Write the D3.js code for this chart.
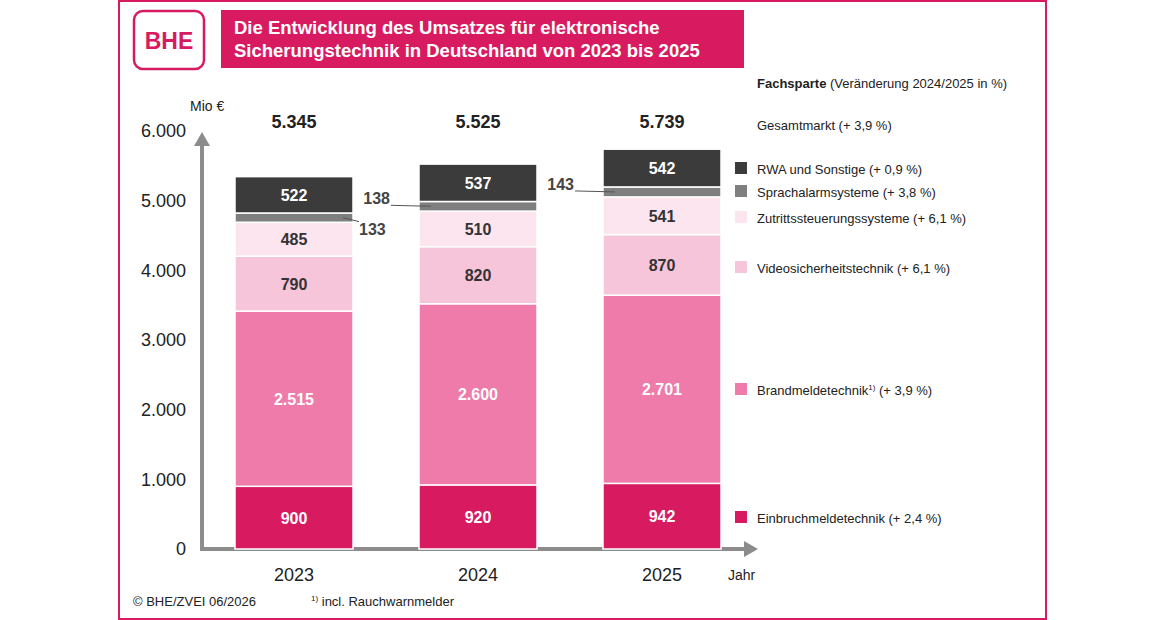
<!DOCTYPE html>
<html><head><meta charset="utf-8">
<script src="https://cdn.jsdelivr.net/npm/d3@7"></script>
<style>body{margin:0;background:#fff}svg{font-family:Arial,"Liberation Sans",sans-serif}</style>
</head><body><svg id="c" width="1160" height="620"></svg>
<script>
const years = ["2023","2024","2025"];
const seriesNames = ["Einbruchmeldetechnik","Brandmeldetechnik","Videosicherheitstechnik","Zutrittssteuerungssysteme","Sprachalarmsysteme","RWA und Sonstige"];
const einbruch = [900,920,942];
const brand = [2515,2600,2701];
const video = [790,820,870];
const zutritt = [485,510,541];
const sprach = [133,138,143];
const rwa = [522,537,542];
const totals = ["5.345","5.525","5.739"];
const legendLabels = ["Einbruchmeldetechnik (+ 2,4 %)","Brandmeldetechnik","Videosicherheitstechnik (+ 6,1 %)","Zutrittssteuerungssysteme (+ 6,1 %)","Sprachalarmsysteme (+ 3,8 %)","RWA und Sonstige (+ 0,9 %)"];
const yTicks = [0,1000,2000,3000,4000,5000,6000];
const colors = ["#d81b60","#ee7baa","#f7c5d9","#fce5ee","#7f7f7f","#3b3b3b"];

const svg = d3.select("#c");
const fmt = v => d3.format(",")(v).replace(/,/g,".");
svg.append("rect").attr("x",119).attr("y",1).attr("width",927).attr("height",618).attr("fill","none").attr("stroke","#d81b60").attr("stroke-width",2);
svg.append("rect").attr("x",134).attr("y",11).attr("width",70).attr("height",58).attr("rx",9).attr("fill","#fff").attr("stroke","#d81b60").attr("stroke-width",2.5);
svg.append("text").attr("x",169).attr("y",49).attr("text-anchor","middle").attr("font-size",23).attr("font-weight","bold").attr("fill","#d81b60").text("BHE");
svg.append("rect").attr("x",221).attr("y",10).attr("width",523).attr("height",58).attr("fill","#d81b60");
svg.append("text").attr("x",234).attr("y",34).attr("font-size",18.5).attr("font-weight","bold").attr("fill","#fff").text("Die Entwicklung des Umsatzes für elektronische");
svg.append("text").attr("x",234).attr("y",57).attr("font-size",18.5).attr("font-weight","bold").attr("fill","#fff").text("Sicherungstechnik in Deutschland von 2023 bis 2025");

const y = d3.scaleLinear().domain([0,6000]).range([549,131]);
const xb = d3.scalePoint().domain(years).range([294,662]);
const bw = 118;

const stackData = years.map((yr,i)=>({year:yr,v:[einbruch[i],brand[i],video[i],zutritt[i],sprach[i],rwa[i]]}));
const keys = d3.range(6);
const stack = d3.stack().keys(keys).value((d,k)=>d.v[k])(stackData);

const ax = svg.append("g").attr("transform","translate(202,0)").call(d3.axisLeft(y).tickValues(yTicks).tickFormat(fmt).tickSize(0).tickPadding(16));
ax.select(".domain").remove();
ax.selectAll("text").attr("font-size",18).attr("fill","#222").style("font-family","Arial,'Liberation Sans',sans-serif");
svg.append("line").attr("x1",202).attr("x2",202).attr("y1",549).attr("y2",140).attr("stroke","#8c8c8c").attr("stroke-width",4);
svg.append("path").attr("d","M194,146 L202,132 L210,146 Z").attr("fill","#8c8c8c");
svg.append("line").attr("x1",200).attr("x2",748).attr("y1",549).attr("y2",549).attr("stroke","#8c8c8c").attr("stroke-width",4);
svg.append("path").attr("d","M744,541 L758,549 L744,557 Z").attr("fill","#8c8c8c");
svg.append("text").attr("x",190).attr("y",111).attr("font-size",14).attr("fill","#222").text("Mio €");
svg.append("text").attr("x",728).attr("y",580).attr("font-size",14).attr("fill","#222").text("Jahr");
years.forEach((yr,i)=>{
  svg.append("text").attr("x",xb(yr)).attr("y",581).attr("text-anchor","middle").attr("font-size",18).attr("fill","#222").text(yr);
  svg.append("text").attr("x",xb(yr)).attr("y",128).attr("text-anchor","middle").attr("font-size",18).attr("font-weight","bold").attr("fill","#222").text(totals[i]);
});

stack.forEach((layer,k)=>{
  layer.forEach((d,i)=>{
    const yr = years[i];
    svg.append("rect").attr("x",xb(yr)-bw/2).attr("width",bw).attr("y",y(d[1])).attr("height",y(d[0])-y(d[1])).attr("fill",colors[k]).attr("stroke","#fff").attr("stroke-width",1.5);
    if(k!==4){
      svg.append("text").attr("x",xb(yr)).attr("y",(y(d[0])+y(d[1]))/2+6).attr("text-anchor","middle").attr("font-size",16).attr("font-weight","bold")
        .attr("fill",(k===0||k===1||k===5)?"#fff":"#333").text(fmt(d.data.v[k]));
    } else {
      const my=(y(d[0])+y(d[1]))/2;
      if(i===0){
        svg.append("line").attr("x1",xb(yr)+bw/2-10).attr("x2",xb(yr)+bw/2+6).attr("y1",my).attr("y2",my+4).attr("stroke","#555");
        svg.append("text").attr("x",xb(yr)+bw/2+6).attr("y",my+17).attr("font-size",16).attr("font-weight","bold").attr("fill","#444").text(fmt(d.data.v[k]));
      } else {
        svg.append("line").attr("x1",xb(yr)-bw/2-28).attr("x2",xb(yr)-bw/2+12).attr("y1",my-1).attr("y2",my).attr("stroke","#555");
        svg.append("text").attr("x",xb(yr)-bw/2-29).attr("y",my-2).attr("text-anchor","end").attr("font-size",16).attr("font-weight","bold").attr("fill","#444").text(fmt(d.data.v[k]));
      }
    }
  });
});

const legY = [518,390,268,218,192,169];
legendLabels.forEach((l,k)=>{
  svg.append("rect").attr("x",735).attr("y",legY[k]-7).attr("width",12).attr("height",12).attr("fill",colors[k]);
  const t = svg.append("text").attr("x",757).attr("y",legY[k]+5).attr("font-size",13).attr("fill","#222");
  if(k===1){ t.text("Brandmeldetechnik"); t.append("tspan").attr("dy",-5).attr("font-size",8).text("1)"); t.append("tspan").attr("dy",5).text("  (+ 3,9 %)"); }
  else t.text(l);
});
svg.append("text").attr("x",757).attr("y",130).attr("font-size",13).attr("fill","#222").text("Gesamtmarkt (+ 3,9 %)");
const fh = svg.append("text").attr("x",757).attr("y",88).attr("font-size",13).attr("fill","#222");
fh.append("tspan").attr("font-weight","bold").text("Fachsparte");
fh.append("tspan").text(" (Veränderung 2024/2025 in %)");
svg.append("text").attr("x",133).attr("y",606).attr("font-size",13).attr("fill","#222").text("© BHE/ZVEI 06/2026");
const fn = svg.append("text").attr("x",311).attr("y",606).attr("font-size",13).attr("fill","#222");
fn.append("tspan").attr("font-size",8).attr("dy",-5).text("1)");
fn.append("tspan").attr("dy",5).text(" incl. Rauchwarnmelder");
</script></body></html>
